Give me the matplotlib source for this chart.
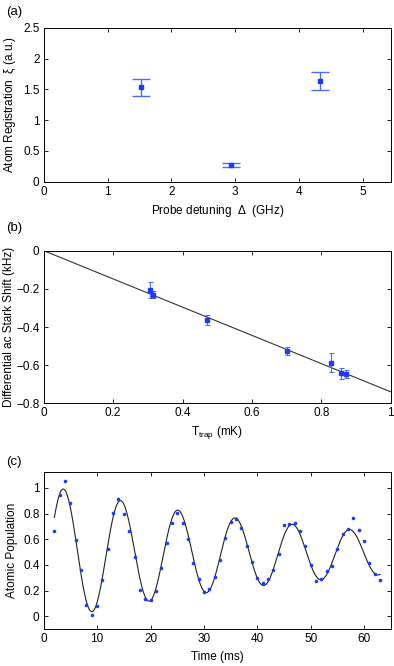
import numpy as np
import matplotlib
matplotlib.use("Agg")
import matplotlib.pyplot as plt

plt.rcParams["font.family"] = ["Liberation Sans", "DejaVu Sans"]
plt.rcParams["font.size"] = 8.5
plt.rcParams["mathtext.fontset"] = "custom"
plt.rcParams["mathtext.rm"] = "Liberation Sans"
plt.rcParams["mathtext.it"] = "Liberation Sans"

# panel (a): atom registration vs probe detuning
detuning = [1.53, 2.93, 4.33]
registration = [1.53, 0.27, 1.63]
registration_err = [0.14, 0.035, 0.145]

# panel (b): differential ac Stark shift vs trap depth
t_trap = [0.305, 0.316, 0.470, 0.702, 0.828, 0.857, 0.870]
stark_shift = [-0.205, -0.230, -0.362, -0.525, -0.587, -0.643, -0.645]
stark_err = [0.042, 0.017, 0.027, 0.020, 0.050, 0.028, 0.020]
fit_line_x = [0.0, 1.0]
fit_line_y = [0.0, -0.74]

# panel (c): oscillation of atomic population
time_ms = list(range(2, 64))
population = [0.667, 0.946, 1.054, 0.879, 0.594, 0.362, 0.085, 0.010, 0.078, 0.284,
              0.525, 0.801, 0.915, 0.793, 0.667, 0.465, 0.207, 0.134, 0.127, 0.199,
              0.375, 0.574, 0.724, 0.806, 0.729, 0.599, 0.413, 0.289, 0.189, 0.214,
              0.310, 0.439, 0.607, 0.734, 0.757, 0.690, 0.550, 0.426, 0.302, 0.258,
              0.292, 0.362, 0.483, 0.713, 0.721, 0.724, 0.664, 0.548, 0.398, 0.276,
              0.292, 0.351, 0.393, 0.522, 0.638, 0.680, 0.765, 0.669, 0.584, 0.413,
              0.331, 0.282]
# damped cosine fit parameters
fit_offset = 0.49
fit_amp = 0.50
fit_tau = 54.0
fit_period = 10.72
fit_t0 = 3.7

pt_color = "#1a3aff"
err_color = "#4d6bff"

fig = plt.figure(figsize=(3.94, 6.66), dpi=100)


def style(ax):
    ax.tick_params(direction="in", top=True, right=True, length=3, width=0.6, pad=3)
    for s in ax.spines.values():
        s.set_linewidth(0.7)


ax1 = fig.add_axes([0.111, 0.7272, 0.881, 0.2312])
ax1.errorbar(detuning, registration, yerr=registration_err, fmt="s", color=pt_color,
             ms=3.5, ecolor=err_color, elinewidth=1, capsize=6.5, capthick=1)
ax1.set_xlim(0, 5.44)
ax1.set_ylim(0, 2.5)
ax1.set_xticks([0, 1, 2, 3, 4, 5])
ax1.set_yticks([0, 0.5, 1, 1.5, 2, 2.5])
ax1.set_yticklabels(["0", "0.5", "1", "1.5", "2", "2.5"])
ax1.set_xlabel("Probe detuning  $\\Delta$  (GHz)", labelpad=4)
ax1.set_ylabel("Atom Registration  $\\xi$ (a.u.)", labelpad=4)
style(ax1)

ax2 = fig.add_axes([0.111, 0.3944, 0.881, 0.2292])
ax2.plot(fit_line_x, fit_line_y, color="#333333", lw=0.8)
ax2.errorbar(t_trap, stark_shift, yerr=stark_err, fmt="s", color=pt_color,
             ms=2.4, ecolor=err_color, elinewidth=0.8, capsize=1.8, capthick=0.8)
ax2.set_xlim(0, 1)
ax2.set_ylim(-0.8, 0)
ax2.set_xticks([0, 0.2, 0.4, 0.6, 0.8, 1])
ax2.set_xticklabels(["0", "0.2", "0.4", "0.6", "0.8", "1"])
ax2.set_yticks([-0.8, -0.6, -0.4, -0.2, 0])
ax2.set_yticklabels(["\u22120.8", "\u22120.6", "\u22120.4", "\u22120.2", "0"])
ax2.set_xlabel("T$_{\\rm trap}$ (mK)", labelpad=3)
ax2.set_ylabel("Differential ac Stark Shift (kHz)", labelpad=1)
style(ax2)

ax3 = fig.add_axes([0.111, 0.0551, 0.881, 0.2357])
t_fit = np.linspace(time_ms[0], time_ms[-1], 400)
y_fit = fit_offset + fit_amp * np.exp(-(t_fit - fit_t0) / fit_tau) * \
    np.cos(2 * np.pi * (t_fit - fit_t0) / fit_period)
ax3.plot(t_fit, y_fit, color="#222222", lw=0.8)
ax3.plot(time_ms, population, "o", color=pt_color, ms=2.6, mec="none")
ax3.set_xlim(0, 65)
ax3.set_ylim(-0.1, 1.12)
ax3.set_xticks([0, 10, 20, 30, 40, 50, 60])
ax3.set_yticks([0, 0.2, 0.4, 0.6, 0.8, 1])
ax3.set_yticklabels(["0", "0.2", "0.4", "0.6", "0.8", "1"])
ax3.set_xlabel("Time (ms)", labelpad=4)
ax3.set_ylabel("Atomic Population", labelpad=4)
style(ax3)

fig.text(0.015, 0.982, "(a)", fontsize=9.5, va="center")
fig.text(0.015, 0.657, "(b)", fontsize=9.5, va="center")
fig.text(0.015, 0.306, "(c)", fontsize=9.5, va="center")

fig.savefig("out.png", dpi=100)
